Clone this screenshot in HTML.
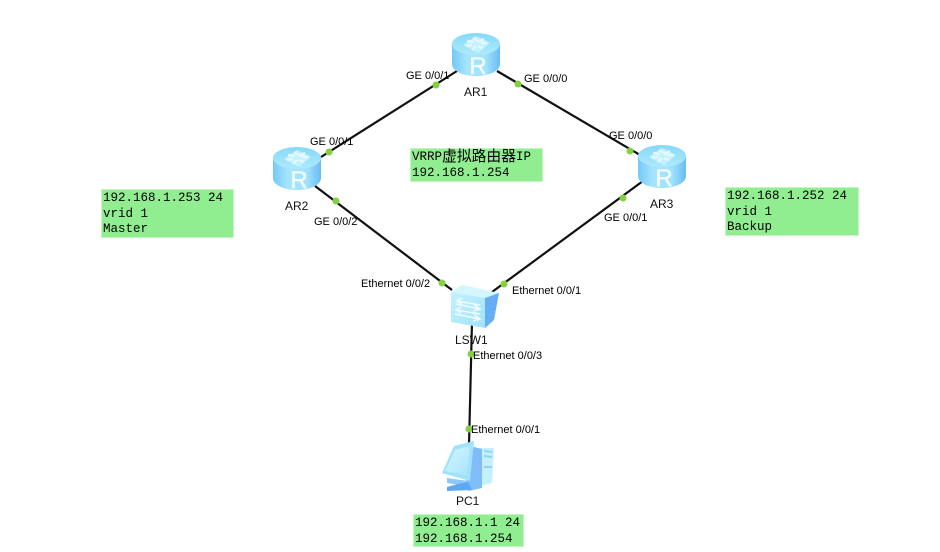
<!DOCTYPE html>
<html>
<head>
<meta charset="utf-8">
<style>
html,body{margin:0;padding:0;background:#fff;width:940px;height:552px;overflow:hidden}
svg{display:block}
.l{font-family:"Liberation Sans",sans-serif;font-size:11px;fill:#000}
.n{font-family:"Liberation Sans",sans-serif;font-size:12px;fill:#111}
.m{font-family:"Liberation Mono","Noto Sans CJK SC",monospace;font-size:12.5px;fill:#000}
.c{font-family:"Noto Sans CJK SC",sans-serif;font-size:14.8px}
</style>
</head>
<body>
<svg width="940" height="552" viewBox="0 0 940 552" xmlns="http://www.w3.org/2000/svg">
<defs>
<linearGradient id="rb" x1="0" y1="0" x2="1" y2="0">
<stop offset="0" stop-color="#74c8f8"/><stop offset=".3" stop-color="#a4e4fd"/><stop offset=".7" stop-color="#a2e2fd"/><stop offset="1" stop-color="#68bcf4"/>
</linearGradient>
<linearGradient id="rt" x1="0" y1="0" x2="0" y2="1">
<stop offset="0" stop-color="#86d8f8"/><stop offset="1" stop-color="#aeeafd"/>
</linearGradient>
<linearGradient id="sf" x1="0" y1="0" x2="1" y2="1">
<stop offset="0" stop-color="#c4f2fe"/><stop offset="1" stop-color="#a0e2fa"/>
</linearGradient>
<linearGradient id="sc" x1="0" y1="0" x2="1" y2="1">
<stop offset="0" stop-color="#d4f6fe"/><stop offset="1" stop-color="#a8e4fc"/>
</linearGradient>
<g id="router">
<path d="M0 11V31C0 38 11 43 24 43S48 38 48 31V11Z" fill="url(#rb)"/>
<ellipse cx="24" cy="11" rx="24" ry="11" fill="url(#rt)"/>
<polygon points="24,3 38,10 26,20 11,12" fill="#c4f1fe"/>
<g stroke="#e4f9fe" stroke-width="2.4" fill="none">
<path d="M15 8L22 9M21 5L26 8M32 6L26 9M35 10L29 10M14 13L20 12M20 17L24 13M31 15L26 13"/>
</g>
<text x="26" y="41" text-anchor="middle" font-family="Liberation Sans,sans-serif" font-size="24" fill="#f0fcff" stroke="#f0fcff" stroke-width=".5">R</text>
</g>
</defs>

<g stroke="#111" stroke-width="2.2" fill="none">
<line x1="457" y1="71" x2="321" y2="157"/>
<line x1="497" y1="71" x2="640" y2="155"/>
<line x1="315" y1="186" x2="452" y2="290"/>
<line x1="643" y1="181" x2="492" y2="292"/>
<line x1="472" y1="322" x2="469" y2="445"/>
</g>

<use href="#router" x="452" y="33"/>
<use href="#router" x="273" y="147"/>
<use href="#router" x="638" y="145"/>

<!-- switch -->
<polygon points="451,292 462,285 499,293 485,298" fill="#d4f6fe"/>
<polygon points="451,292 485,298 485,328 451,322" fill="url(#sf)"/>
<polygon points="485,298 499,293 494,320 485,328" fill="#66aef4"/>
<g stroke="#f0fcff" stroke-width="1.6" fill="none">
<path d="M456 304L480 309M474 304.5L480 309L473 311"/>
<path d="M480 305L457 301M462 298L457 301L462 304"/>
<path d="M455 314L480 319M474 314.5L480 319L473 321"/>
<path d="M480 314L456 310M461 307L456 310L461 313"/>
</g>

<!-- PC -->
<polygon points="480,448 494,448 492,483 480,486" fill="#c4f0fe"/>
<polygon points="470,446 482,449 482,488 468,491 466,480" fill="#80bcf8"/>
<polygon points="484,450 492,451 492,453 484,452" fill="#8ed4f4"/>
<polygon points="484,455 492,456 492,458 484,457" fill="#8ed4f4"/>
<polygon points="484,466 492,466 492,468 484,468" fill="#8ed4f4"/>
<polygon points="442,473 454,446 474,441 470,481" fill="#9ee2fc"/>
<polygon points="445,471 455,450 470,446 467,475" fill="url(#sc)"/>
<polygon points="447,478 468,481 466,486 447,483" fill="#8cc8f8"/>
<polygon points="458,484 468,482 472,490 447,491 447,487" fill="#5ca8f4"/>

<g fill="#84d040">
<circle cx="436" cy="85" r="3.5"/>
<circle cx="518" cy="84" r="3.5"/>
<circle cx="329" cy="152" r="3.5"/>
<circle cx="630" cy="151" r="3.5"/>
<circle cx="336" cy="201" r="3.5"/>
<circle cx="623" cy="198" r="3.5"/>
<circle cx="442" cy="283" r="3.5"/>
<circle cx="504" cy="284" r="3.5"/>
<circle cx="471" cy="354" r="3.5"/>
<circle cx="469" cy="429" r="3.5"/>
</g>

<text class="l" x="406" y="79">GE 0/0/1</text>
<text class="l" x="524" y="82">GE 0/0/0</text>
<text class="l" x="310" y="145">GE 0/0/1</text>
<text class="l" x="609" y="139">GE 0/0/0</text>
<text class="l" x="314" y="225">GE 0/0/2</text>
<text class="l" x="604" y="221">GE 0/0/1</text>
<text class="l" x="361" y="287">Ethernet 0/0/2</text>
<text class="l" x="512" y="294">Ethernet 0/0/1</text>
<text class="l" x="473" y="359">Ethernet 0/0/3</text>
<text class="l" x="471" y="433">Ethernet 0/0/1</text>
<text class="n" x="464" y="96">AR1</text>
<text class="n" x="285" y="210">AR2</text>
<text class="n" x="650" y="208">AR3</text>
<text class="n" x="455" y="344">LSW1</text>
<text class="n" x="456" y="505">PC1</text>

<g fill="#90ee90" stroke="#c4f5c4" stroke-width="1">
<rect x="101.5" y="189.5" width="132" height="48"/>
<rect x="410.5" y="148.5" width="132" height="33"/>
<rect x="725.5" y="187.5" width="133" height="48"/>
<rect x="413.5" y="514.5" width="110" height="32"/>
</g>
<text class="m" x="103" y="201">192.168.1.253 24</text>
<text class="m" x="103" y="217">vrid 1</text>
<text class="m" x="103" y="232">Master</text>
<text class="m" x="412" y="160">VRRP<tspan class="c" dy="1">虚拟路由器</tspan><tspan dy="-1">IP</tspan></text>
<text class="m" x="412" y="176">192.168.1.254</text>
<text class="m" x="727" y="199">192.168.1.252 24</text>
<text class="m" x="727" y="215">vrid 1</text>
<text class="m" x="727" y="230">Backup</text>
<text class="m" x="415" y="526">192.168.1.1 24</text>
<text class="m" x="415" y="542">192.168.1.254</text>
</svg>
</body>
</html>
